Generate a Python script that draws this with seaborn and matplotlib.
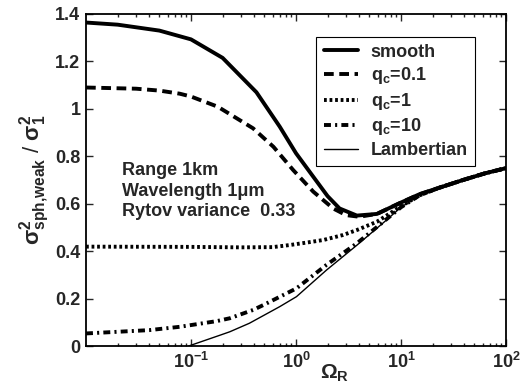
import numpy as np
import pandas as pd
import seaborn as sns
import matplotlib
matplotlib.use("Agg")
import matplotlib.pyplot as plt

# values (x is Omega_R, log scale)
omega_smooth = [0.01, 0.02, 0.05, 0.1, 0.2, 0.42, 0.7, 1.0, 1.46, 2.0, 2.6, 3.8, 5.9, 10, 15, 23, 39, 63, 100]
sig_smooth = [1.364, 1.355, 1.33, 1.293, 1.215, 1.07, 0.925, 0.813, 0.714, 0.632, 0.58, 0.55, 0.557, 0.605, 0.64, 0.667, 0.70, 0.728, 0.75]

omega_q01 = [0.01, 0.03, 0.05, 0.078, 0.1, 0.18, 0.39, 0.61, 0.94, 1.46, 2.26, 3.0, 4.0, 5.9, 10, 15, 23, 39, 63, 100]
sig_q01 = [1.09, 1.085, 1.077, 1.064, 1.052, 1.009, 0.918, 0.84, 0.742, 0.651, 0.58, 0.552, 0.545, 0.557, 0.605, 0.64, 0.667, 0.70, 0.728, 0.75]

omega_q1 = [0.01, 0.1, 0.3, 0.6, 0.88, 1.3, 1.82, 2.8, 3.8, 5.9, 7.9, 10, 15, 23, 39, 63, 100]
sig_q1 = [0.419, 0.418, 0.416, 0.417, 0.426, 0.437, 0.447, 0.468, 0.489, 0.524, 0.56, 0.59, 0.635, 0.667, 0.70, 0.728, 0.75]

omega_q10 = [0.01, 0.02, 0.04, 0.078, 0.176, 0.234, 0.39, 0.49, 1.01, 1.95, 3.8, 6.8, 10, 15, 23, 39, 63, 100]
sig_q10 = [0.053, 0.06, 0.067, 0.081, 0.105, 0.117, 0.152, 0.173, 0.243, 0.342, 0.433, 0.524, 0.585, 0.635, 0.667, 0.70, 0.728, 0.75]

omega_lamb = [0.095, 0.19, 0.234, 0.36, 0.7, 1.01, 1.95, 3.8, 6.8, 10, 15, 23, 39, 63, 100]
sig_lamb = [0.0, 0.046, 0.06, 0.096, 0.166, 0.208, 0.32, 0.425, 0.52, 0.585, 0.635, 0.667, 0.70, 0.728, 0.75]

series_labels = ["smooth", r"q$_{\rm c}$=0.1", r"q$_{\rm c}$=1", r"q$_{\rm c}$=10", "Lambertian"]
y_ticks = [0, 0.2, 0.4, 0.6, 0.8, 1, 1.2, 1.4]
y_ticklabels = ["0", "0.2", "0.4", "0.6", "0.8", "1", "1.2", "1.4"]
x_ticks = [0.1, 1, 10, 100]
x_ticklabels = [r"10$^{-1}$", r"10$^{0}$", r"10$^{1}$", r"10$^{2}$"]
note_lines = ["Range 1km", "Wavelength 1\u03bcm", "Rytov variance  0.33"]

sns.set_style("ticks")
plt.rcParams["font.family"] = ["Liberation Sans", "DejaVu Sans"]
plt.rcParams["font.weight"] = "bold"
plt.rcParams["mathtext.fontset"] = "custom"
plt.rcParams["mathtext.rm"] = "Liberation Sans:bold"
plt.rcParams["mathtext.it"] = "Liberation Sans:bold"
plt.rcParams["mathtext.bf"] = "Liberation Sans:bold"
plt.rcParams["mathtext.default"] = "rm"
plt.rcParams["lines.scale_dashes"] = False

fig = plt.figure(figsize=(5.2, 3.92), dpi=100)
ax = fig.add_axes([0.1654, 0.1173, 0.8076, 0.847])

curves = [
    (omega_smooth, sig_smooth, 2.8, "-"),
    (omega_q01, sig_q01, 2.8, (0, (7, 4))),
    (omega_q1, sig_q1, 2.8, (0, (2, 2))),
    (omega_q10, sig_q10, 2.8, (0, (5, 3, 1.5, 3))),
    (omega_lamb, sig_lamb, 1.0, "-"),
]
for (xs, ys, lw, ls), lab in zip(curves, series_labels):
    df = pd.DataFrame({"omega": xs, "sigma": ys})
    sns.lineplot(data=df, x="omega", y="sigma", ax=ax, color="black", linewidth=lw,
                 linestyle=ls, label=lab, sort=False, estimator=None)

ax.set_xscale("log")
ax.set_xlim(0.01, 100)
ax.set_ylim(0, 1.4)
ax.set_yticks(y_ticks)
ax.set_yticklabels(y_ticklabels)
ax.set_xticks(x_ticks)
ax.set_xticklabels(x_ticklabels)
ax.tick_params(which="both", direction="in", top=True, right=True, labelsize=13, width=1)
ax.tick_params(which="major", length=5, pad=4)
ax.tick_params(which="minor", length=2.5)
for sp in ax.spines.values():
    sp.set_linewidth(1.3)
    sp.set_color("black")

ax.set_xlabel(r"$\Omega_{\rm R}$", fontsize=15)
ax.xaxis.set_label_coords(0.593, -0.05)
ax.set_ylabel(r"$\sigma^2_{\rm sph{,}weak}$ / $\sigma^2_{1}$", fontsize=16, labelpad=2)

ax.text(0.0857, 0.553, "\n".join(note_lines), transform=ax.transAxes, va="top", ha="left",
        fontsize=13, fontweight="bold", linespacing=1.25)

leg = ax.legend(loc="upper right", bbox_to_anchor=(0.926, 0.932), fontsize=13, frameon=True,
                fancybox=False, framealpha=1, edgecolor="black", handlelength=1.9,
                handletextpad=0.7, labelspacing=0.25, borderpad=0.4, borderaxespad=0)
leg.get_frame().set_linewidth(0.8)

fig.savefig("out.png", dpi=100)
